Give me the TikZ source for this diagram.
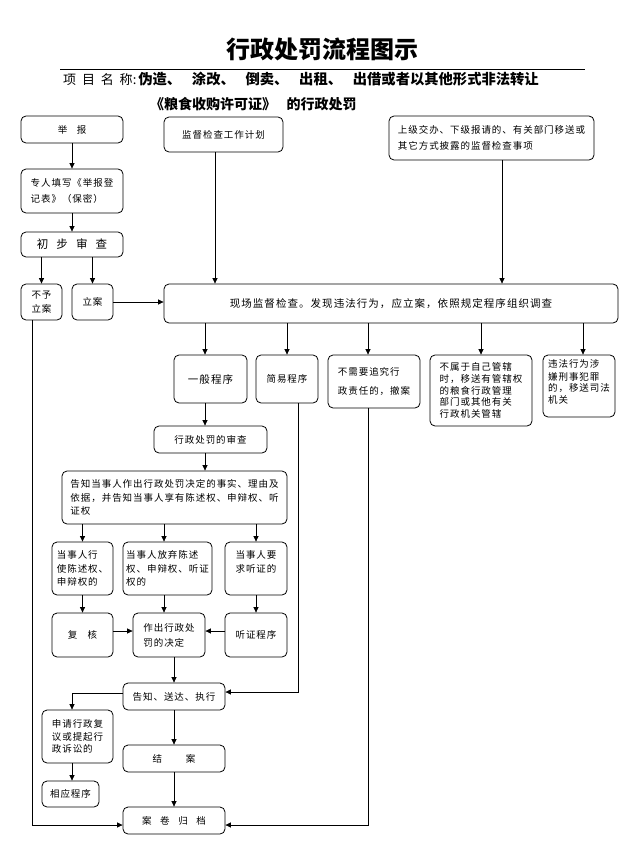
\documentclass[tikz,border=0pt]{standalone}
\usepackage{fontspec}
\usetikzlibrary{arrows.meta}
\newfontfamily\cjk{Noto Sans CJK SC}
\newfontfamily\cjkls{Noto Sans CJK SC}[LetterSpace=10]
\newfontfamily\cjkwide{Noto Sans CJK SC}[LetterSpace=45]
\newcommand{\bxf}[2]{\cjkls\fontsize{#1}{#2}\selectfont}
\tikzset{
  box/.style={draw, line width=0.8pt, rounded corners=5pt, align=left, inner sep=2pt, font=\bxf{9.5}{13.5}},
  arr/.style={-{Triangle[length=5.5pt,width=5pt]}, line width=0.7pt},
}
\begin{document}
\begin{tikzpicture}[x=1pt,y=-1pt]
\useasboundingbox (0,0) rectangle (640,859);
% header
\node[font=\cjk\bfseries\fontsize{24}{28}\selectfont, inner sep=0] (title) at (322.5,49) {行政处罚流程图示};
\coordinate (rl) at (60,69);
\coordinate (rr) at (585,69);
\draw[line width=0.6pt] (rl) -- (rr);
\node[anchor=west, inner sep=0] (sub1) at (63,79) {{\cjkwide\fontsize{13}{15}\selectfont 项目名称}{\cjk\fontsize{13}{15}\selectfont :}\hspace{2pt}{\cjk\bfseries\fontsize{14.3}{16}\selectfont 伪造、\hspace{0.75em}涂改、\hspace{0.75em}倒卖、\hspace{0.75em}出租、\hspace{0.75em}出借或者以其他形式非法转让}};
\node[anchor=west, inner sep=0] (sub2) at (150,104) {\cjk\bfseries\fontsize{14}{16}\selectfont 《粮食收购许可证》\hspace{0.75em}的行政处罚};

% boxes
\node[box, minimum width=102pt, minimum height=27pt] (jubao) at (72,129.5) {举\hspace{1em}报};
\node[box, minimum width=119pt, minimum height=35pt] (jihua) at (223.5,134.5) {监督检查工作计划};
\node[box, minimum width=205pt, minimum height=44pt, font=\bxf{9.5}{16}] (shangji) at (491.5,138) {上级交办、下级报请的、有关部门移送或\\其它方式披露的监督检查事项};
\node[box, minimum width=102pt, minimum height=44pt, font=\bxf{9.5}{16}] (tianxie) at (72,191) {专人填写《举报登\\记表》（保密）};
\node[box, minimum width=102pt, minimum height=25pt, font=\bxf{11.5}{14}] (chubu) at (72,244.5) {初\hspace{0.7em}步\hspace{0.7em}审\hspace{0.7em}查};
\node[box, minimum width=41pt, minimum height=36pt, font=\bxf{9.5}{14}] (buyu) at (41.5,302) {不予\\立案};
\node[box, minimum width=41pt, minimum height=36pt] (lian) at (92.5,302) {立案};
\node[box, minimum width=454pt, minimum height=39pt, font=\bxf{10.5}{13}] (xianchang) at (391,303.5) {现场监督检查。发现违法行为，应立案，依照规定程序组织调查};
\node[box, minimum width=73pt, minimum height=48pt, font=\bxf{10.5}{13}] (yiban) at (210.5,379) {一般程序};
\node[box, minimum width=62pt, minimum height=48pt] (jianyi) at (287,379) {简易程序};
\node[box, minimum width=92pt, minimum height=53pt, font=\bxf{9.5}{19}] (buxuyao) at (374,381.5) {不需要追究行\\政责任的，撤案};
\node[box, minimum width=102pt, minimum height=71pt, font=\bxf{9.5}{11.7}] (bushuyu) at (481,390.5) {不属于自己管辖\\时，移送有管辖权\\的粮食行政管理\\部门或其他有关\\行政机关管辖};
\node[box, minimum width=72pt, minimum height=62pt, font=\bxf{9.5}{12}] (weifa) at (579,386) {违法行为涉\\嫌刑事犯罪\\的，移送司法\\机关\\[-4pt]\mbox{}};
\node[box, minimum width=113pt, minimum height=27pt] (shencha) at (210.5,439.5) {行政处罚的审查};
\node[box, minimum width=225pt, minimum height=53pt] (gaozhi) at (174.5,497.5) {告知当事人作出行政处罚决定的事实、理由及\\依据，并告知当事人享有陈述权、申辩权、听\\证权};
\node[box, minimum width=61pt, minimum height=53pt] (xingshi) at (82.5,568.5) {当事人行\\使陈述权、\\申辩权的};
\node[box, minimum width=89pt, minimum height=53pt] (fangqi) at (167.5,568.5) {当事人放弃陈述\\权、申辩权、听证\\权的};
\node[box, minimum width=62pt, minimum height=53pt] (yaoqiu) at (256,568.5) {当事人要\\求听证的\\\mbox{}};
\node[box, minimum width=61pt, minimum height=44pt] (fuhe) at (82.5,635) {复\hspace{1.1em}核};
\node[box, minimum width=72pt, minimum height=44pt, font=\bxf{9.5}{15}] (zuochu) at (169,635) {作出行政处\\罚的决定};
\node[box, minimum width=62pt, minimum height=44pt] (tingzheng) at (256,635) {听证程序};
\node[box, minimum width=102pt, minimum height=27pt] (songda) at (174,696.5) {告知、送达、执行};
\node[box, minimum width=71pt, minimum height=53pt, font=\bxf{9.5}{12.5}] (shenqing) at (77.5,736.5) {申请行政复\\议或提起行\\政诉讼的};
\node[box, minimum width=102pt, minimum height=27pt] (jiean) at (174,758.5) {结\hspace{2.5em}案};
\node[box, minimum width=57pt, minimum height=26pt] (xiangying) at (70.5,794) {相应程序};
\node[box, minimum width=102pt, minimum height=27pt] (guidang) at (174,820.5) {案\hspace{0.9em}卷\hspace{0.9em}归\hspace{0.9em}档};

% connectors
\draw[arr] (jubao) -- (tianxie);
\draw[arr] (tianxie) -- (chubu);
\draw[arr] (chubu.south -| buyu) -- (buyu);
\draw[arr] (chubu.south -| lian) -- (lian);
\draw[arr] (lian) -- (lian -| xianchang.west);
\draw[arr] ([xshift=-8.5pt]jihua.south) -- ([xshift=-8.5pt]jihua.south |- xianchang.north);
\draw[arr] ([xshift=10.5pt]shangji.south) -- ([xshift=10.5pt]shangji.south |- xianchang.north);
\draw[arr] ([xshift=-5.5pt]yiban.north |- xianchang.south) -- ([xshift=-5.5pt]yiban.north);
\draw[arr] (jianyi.north |- xianchang.south) -- (jianyi.north);
\draw[arr] ([xshift=-6pt]buxuyao.north |- xianchang.south) -- ([xshift=-6pt]buxuyao.north);
\draw[arr] (bushuyu.north |- xianchang.south) -- (bushuyu.north);
\draw[arr] ([xshift=4pt]weifa.north |- xianchang.south) -- ([xshift=4pt]weifa.north);
\draw[arr] ([xshift=-5.5pt]yiban.south) -- ([xshift=-5.5pt]yiban.south |- shencha.north);
\draw[arr] ([xshift=-5.5pt]shencha.south) -- ([xshift=-5.5pt]shencha.south |- gaozhi.north);
\draw[arr] (gaozhi.south -| xingshi) -- (xingshi);
\draw[arr] ([xshift=-3.5pt]fangqi.north |- gaozhi.south) -- ([xshift=-3.5pt]fangqi.north);
\draw[arr] (gaozhi.south -| yaoqiu) -- (yaoqiu);
\draw[arr] (xingshi) -- (fuhe);
\draw[arr] ([xshift=-3.5pt]fangqi.south) -- ([xshift=-3.5pt]fangqi.south |- zuochu.north);
\draw[arr] (yaoqiu) -- (tingzheng);
\draw[arr] ([yshift=4pt]fuhe.east) -- ([yshift=4pt]fuhe.east -| zuochu.west);
\draw[arr] ([yshift=4pt]tingzheng.west) -- ([yshift=4pt]tingzheng.west -| zuochu.east);
\draw[arr] ([xshift=5pt]zuochu.south) -- ([xshift=5pt]zuochu.south |- songda.north);
\draw[arr] (songda) -- (jiean);
\draw[arr] (jiean) -- (guidang);
\draw[arr] ([xshift=11pt]jianyi.south) |- ([yshift=4.5pt]songda.east);
\draw[arr] ([yshift=3.5pt]songda.west) -| ([xshift=-5.5pt]shenqing.north);
\draw[arr] ([xshift=-5.5pt]shenqing.south) -- ([xshift=-5.5pt]shenqing.south |- xiangying.north);
\draw[arr] ([xshift=-9.5pt]buyu.south) |- ([yshift=-4.5pt]guidang.west);
\draw[arr] ([xshift=-6pt]buxuyao.south) |- ([yshift=-4.5pt]guidang.east);
\end{tikzpicture}
\end{document}
